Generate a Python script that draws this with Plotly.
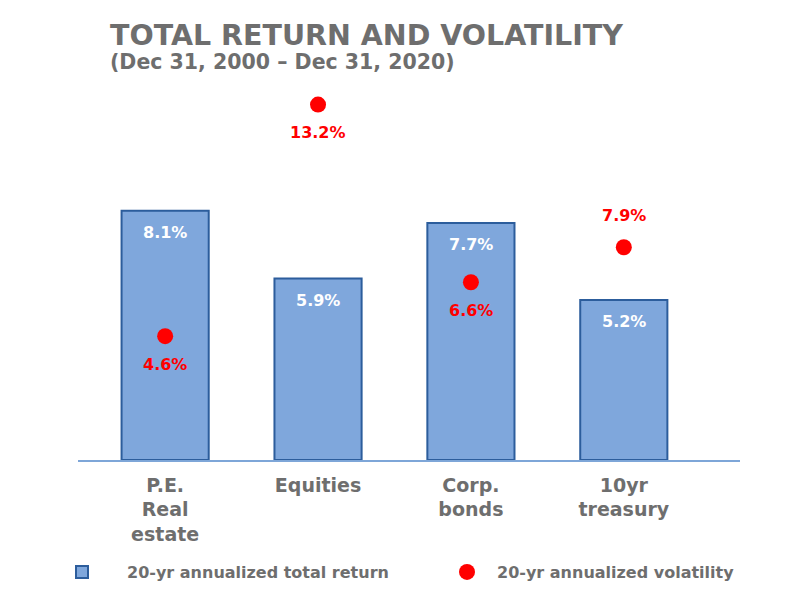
import plotly.graph_objects as go

categories = ["P.E.<br>Real<br>estate", "Equities", "Corp.<br>bonds", "10yr<br>treasury"]
total_return = [8.1, 5.9, 7.7, 5.2]
volatility = [4.6, 13.2, 6.6, 7.9]
vol_label_side = ["below", "below", "below", "above"]

GRAY = "#6e6e6e"
FONT = "DejaVu Sans"
x_idx = list(range(len(categories)))

fig = go.Figure()
fig.add_trace(go.Bar(
    x=x_idx, y=total_return, width=0.57,
    marker=dict(color="#7fa7dc", line=dict(color="#2c5d9c", width=2)),
    name="<b>20-yr annualized total return</b>", yaxis="y", legend="legend",
))
fig.add_trace(go.Scatter(
    x=x_idx, y=volatility, mode="markers",
    marker=dict(color="#ff0000", size=16, symbol="circle"),
    name="<b>20-yr annualized volatility</b>", yaxis="y2", legend="legend2",
))

ann = []
for i, v in enumerate(total_return):
    ann.append(dict(x=i, y=v, xref="x", yref="y", text=f"<b>{v:.1f}%</b>",
                    showarrow=False, yshift=-22, yanchor="middle",
                    font=dict(family=FONT, size=16, color="white")))
for i, v in enumerate(volatility):
    ann.append(dict(x=i, y=v, xref="x", yref="y2", text=f"<b>{v:.1f}%</b>",
                    showarrow=False, yshift=(-28 if vol_label_side[i] == "below" else 32),
                    yanchor="middle",
                    font=dict(family=FONT, size=16, color="#ff0000")))
ann.append(dict(x=(108 - 78) / 662, y=(460 - 62) / 370, xref="paper", yref="paper",
                text="<b>(Dec 31, 2000 – Dec 31, 2020)</b>", showarrow=False,
                xanchor="left", yanchor="middle",
                font=dict(family=FONT, size=20.5, color=GRAY)))

leg_common = dict(orientation="h", xref="container", yref="container",
                  xanchor="left", y=1 - 572 / 608, yanchor="middle",
                  font=dict(family=FONT, size=16, color=GRAY), bgcolor="rgba(0,0,0,0)")

fig.update_layout(
    width=800, height=608,
    margin=dict(l=78, r=60, t=90, b=148, autoexpand=False),
    paper_bgcolor="white", plot_bgcolor="white",
    title=dict(text="<b>TOTAL RETURN AND VOLATILITY</b>", x=110 / 800, xanchor="left",
               xref="container", y=1 - 35 / 608, yanchor="middle", yref="container",
               font=dict(family=FONT, size=28.5, color=GRAY)),
    xaxis=dict(range=[-0.57, 3.76], tickmode="array", tickvals=x_idx, ticktext=[f"<b>{c}</b>" for c in categories],
               showline=True, linecolor="#7ea6d8", linewidth=1.5, ticks="", showgrid=False,
               tickfont=dict(family=FONT, size=19, color=GRAY), zeroline=False,
               ticklabelstandoff=7),
    yaxis=dict(range=[0, 12.02], visible=False, showgrid=False),
    yaxis2=dict(range=[0, 13.74], overlaying="y", side="right", visible=False, showgrid=False),
    annotations=ann,
    showlegend=True,
    legend=dict(**leg_common, x=37 / 800, itemwidth=80),
    legend2=dict(**leg_common, x=437 / 800, itemwidth=50),
)
fig.write_html("out.html")
